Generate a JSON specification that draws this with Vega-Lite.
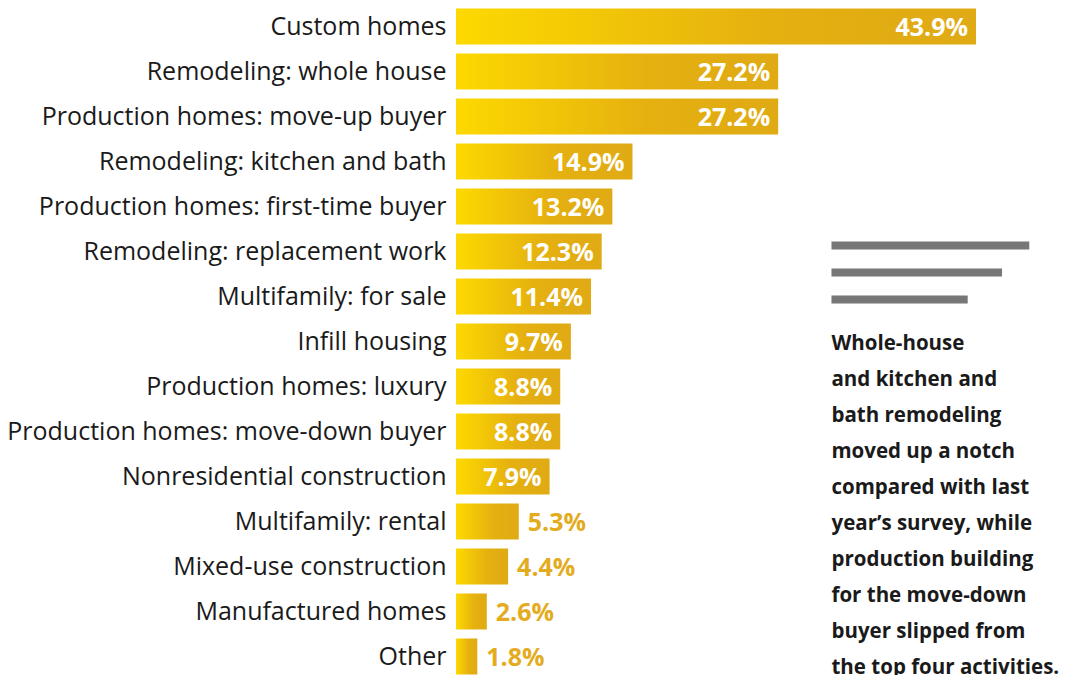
{
  "$schema": "https://vega.github.io/schema/vega-lite/v6.json",
  "autosize": "none",
  "width": 610,
  "height": 675,
  "padding": {"left": 456, "top": 4, "right": 0, "bottom": 0},
  "background": "white",
  "config": {"view": {"stroke": null}, "font": "Open Sans"},
  "datasets": {
    "bars": [
      {"category": "Custom homes", "pct": 43.9},
      {"category": "Remodeling: whole house", "pct": 27.2},
      {"category": "Production homes: move-up buyer", "pct": 27.2},
      {"category": "Remodeling: kitchen and bath", "pct": 14.9},
      {"category": "Production homes: first-time buyer", "pct": 13.2},
      {"category": "Remodeling: replacement work", "pct": 12.3},
      {"category": "Multifamily: for sale", "pct": 11.4},
      {"category": "Infill housing", "pct": 9.7},
      {"category": "Production homes: luxury", "pct": 8.8},
      {"category": "Production homes: move-down buyer", "pct": 8.8},
      {"category": "Nonresidential construction", "pct": 7.9},
      {"category": "Multifamily: rental", "pct": 5.3},
      {"category": "Mixed-use construction", "pct": 4.4},
      {"category": "Manufactured homes", "pct": 2.6},
      {"category": "Other", "pct": 1.8}
    ],
    "rules": [
      {"category": "Remodeling: replacement work", "start": 31.7, "end": 48.4, "line": "a"},
      {"category": "Remodeling: replacement work", "start": 31.7, "end": 46.1, "line": "b"},
      {"category": "Remodeling: replacement work", "start": 31.7, "end": 43.2, "line": "c"}
    ],
    "note": [
      {"category": "Infill housing", "start": 31.7}
    ]
  },
  "layer": [
    {"data": {"name": "bars"},
      "mark": {"type": "bar",
        "color": {"gradient": "linear", "x1": 0, "x2": 1, "y1": 0, "y2": 0,
          "stops": [{"offset": 0, "color": "#FDD900"}, {"offset": 0.6, "color": "#E5B010"}, {"offset": 1, "color": "#DFAA14"}]}},
      "encoding": {
        "y": {"field": "category", "type": "nominal", "sort": null,
          "scale": {"paddingInner": 0.2, "paddingOuter": 0.1},
          "axis": {"title": null, "domain": false, "ticks": false, "labelPadding": 10,
            "labelFontSize": 25, "labelColor": "#1a1a1a", "labelFont": "Open Sans", "labelLimit": 460}},
        "x": {"field": "pct", "type": "quantitative", "scale": {"domain": [0, 51.5], "nice": false, "zero": false}, "axis": null}
      }},
    {"data": {"name": "bars"},
      "transform": [{"filter": "datum.pct >= 7"}, {"calculate": "format(datum.pct, '.1f') + '%'", "as": "label"}],
      "mark": {"type": "text", "align": "right", "dx": -8, "fontSize": 25, "fontWeight": "bold", "color": "white", "baseline": "middle", "dy": 1},
      "encoding": {
        "y": {"field": "category", "type": "nominal", "sort": null},
        "x": {"field": "pct", "type": "quantitative", "scale": {"domain": [0, 51.5], "nice": false, "zero": false}},
        "text": {"field": "label", "type": "nominal"}}},
    {"data": {"name": "bars"},
      "transform": [{"filter": "datum.pct < 7"}, {"calculate": "format(datum.pct, '.1f') + '%'", "as": "label"}],
      "mark": {"type": "text", "align": "left", "dx": 9, "fontSize": 25, "fontWeight": "bold", "color": "#E3AC1E", "baseline": "middle", "dy": 1},
      "encoding": {
        "y": {"field": "category", "type": "nominal", "sort": null},
        "x": {"field": "pct", "type": "quantitative", "scale": {"domain": [0, 51.5], "nice": false, "zero": false}},
        "text": {"field": "label", "type": "nominal"}}},
    {"data": {"name": "rules"},
      "transform": [{"filter": "datum.line == 'a'"}],
      "mark": {"type": "rule", "strokeWidth": 8, "color": "#777777", "yOffset": -6},
      "encoding": {
        "y": {"field": "category", "type": "nominal", "sort": null},
        "x": {"field": "start", "type": "quantitative", "scale": {"domain": [0, 51.5], "nice": false, "zero": false}},
        "x2": {"field": "end"}}},
    {"data": {"name": "rules"},
      "transform": [{"filter": "datum.line == 'b'"}],
      "mark": {"type": "rule", "strokeWidth": 8, "color": "#777777", "yOffset": 21},
      "encoding": {
        "y": {"field": "category", "type": "nominal", "sort": null},
        "x": {"field": "start", "type": "quantitative", "scale": {"domain": [0, 51.5], "nice": false, "zero": false}},
        "x2": {"field": "end"}}},
    {"data": {"name": "rules"},
      "transform": [{"filter": "datum.line == 'c'"}],
      "mark": {"type": "rule", "strokeWidth": 8, "color": "#777777", "yOffset": 48},
      "encoding": {
        "y": {"field": "category", "type": "nominal", "sort": null},
        "x": {"field": "start", "type": "quantitative", "scale": {"domain": [0, 51.5], "nice": false, "zero": false}},
        "x2": {"field": "end"}}},
    {"data": {"name": "note"},
      "mark": {"type": "text", "align": "left", "baseline": "alphabetic", "dy": 8, "fontSize": 20.5, "fontWeight": "bold", "color": "#1a1a1a", "lineHeight": 36,
        "text": ["Whole-house", "and kitchen and", "bath remodeling", "moved up a notch", "compared with last", "year’s survey, while", "production building", "for the move-down", "buyer slipped from", "the top four activities."]},
      "encoding": {
        "y": {"field": "category", "type": "nominal", "sort": null},
        "x": {"field": "start", "type": "quantitative", "scale": {"domain": [0, 51.5], "nice": false, "zero": false}}}}
  ]
}
